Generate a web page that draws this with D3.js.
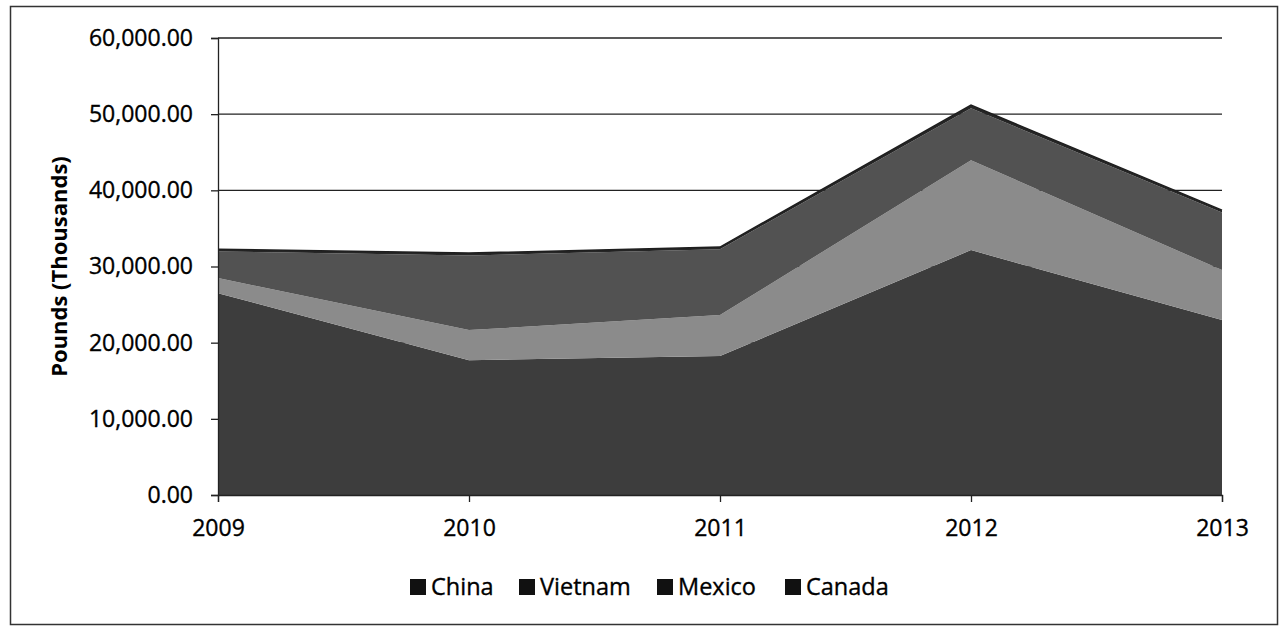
<!DOCTYPE html>
<html>
<head>
<meta charset="utf-8">
<script src="https://cdn.jsdelivr.net/npm/d3@7"></script>
<style>
  body { margin: 0; background: #fff; }
  svg { font-family: "Open Sans", "Liberation Sans", sans-serif; }
</style>
</head>
<body>
<svg width="1279" height="627"></svg>
<script>
// chart data
const years = ["2009", "2010", "2011", "2012", "2013"];
const china = [26500, 17700, 18240, 32150, 22970];
const vietnam = [1980, 3950, 5380, 11810, 6560];
const mexico = [3500, 9810, 8630, 6820, 7570];
const canada = [300, 300, 300, 400, 300];
const seriesNames = ["China", "Vietnam", "Mexico", "Canada"];
const yTicks = [0, 10000, 20000, 30000, 40000, 50000, 60000];

// define constants
const svg = d3.select("svg");
const width = +svg.attr("width");
const height = +svg.attr("height");
const margin = { left: 218, right: 57, top: 38, bottom: 132 };

const color = d3.scaleOrdinal()
  .domain(seriesNames)
  .range(["#3d3d3d", "#8b8b8b", "#525252", "#262626"]);

// build rows for the stack
const rows = years.map((y, i) => ({
  year: y, China: china[i], Vietnam: vietnam[i], Mexico: mexico[i], Canada: canada[i]
}));
const stacked = d3.stack().keys(seriesNames)(rows);

const x = d3.scalePoint()
  .domain(years)
  .range([margin.left, width - margin.right]);

const y = d3.scaleLinear()
  .domain([0, 60000])
  .range([height - margin.bottom, margin.top]);

// outer frame
svg.append("rect")
  .attr("x", 10.5).attr("y", 6.5)
  .attr("width", 1267).attr("height", 618)
  .attr("fill", "none")
  .attr("stroke", "#333")
  .attr("stroke-width", 1.5);

// gridlines
svg.append("g")
  .selectAll("line")
  .data(yTicks.slice(1))
  .enter().append("line")
    .attr("x1", margin.left)
    .attr("x2", width - margin.right)
    .attr("y1", d => y(d))
    .attr("y2", d => y(d))
    .attr("stroke", "#222")
    .attr("stroke-width", 1.3);

// areas
const area = d3.area()
  .x(d => x(d.data.year))
  .y0(d => y(d[0]))
  .y1(d => y(d[1]));

svg.append("g")
  .selectAll("path")
  .data(stacked)
  .enter().append("path")
    .attr("d", area)
    .attr("fill", d => color(d.key));

// top edge of the stack
svg.append("path")
  .datum(stacked[stacked.length - 1])
  .attr("d", d3.line().x(d => x(d.data.year)).y(d => y(d[1])))
  .attr("fill", "none")
  .attr("stroke", "#1e1e1e")
  .attr("stroke-width", 1.5);

// y axis
const yAxis = svg.append("g")
  .attr("transform", `translate(${margin.left},0)`)
  .call(d3.axisLeft(y)
    .tickValues(yTicks)
    .tickSize(7)
    .tickPadding(18)
    .tickFormat(d3.format(",.2f")));

// x axis
const xAxis = svg.append("g")
  .attr("transform", `translate(0,${height - margin.bottom})`)
  .call(d3.axisBottom(x)
    .tickSize(7)
    .tickPadding(18));

[yAxis, xAxis].forEach(ax => {
  ax.select(".domain").attr("stroke", "#222").attr("stroke-width", 1.3);
  ax.selectAll(".tick line").attr("stroke", "#222").attr("stroke-width", 1.3);
  ax.selectAll("text")
    .attr("fill", "#000")
    .attr("stroke", "#000")
    .attr("stroke-width", 0.35)
    .style("font-size", "23px")
    .style("font-family", "'Open Sans', sans-serif");
});

// y axis title
svg.append("text")
  .attr("transform", `translate(67,${(y(0) + y(60000)) / 2}) rotate(-90)`)
  .attr("text-anchor", "middle")
  .style("font-size", "22px")
  .style("font-weight", "bold")
  .attr("fill", "#000")
  .text("Pounds (Thousands)");

// legend
const legendX = [410, 519, 657, 785];
const legend = svg.append("g")
  .selectAll("g")
  .data(seriesNames)
  .enter().append("g")
    .attr("transform", (d, i) => `translate(${legendX[i]},587)`);

legend.append("rect")
  .attr("x", 0).attr("y", -8)
  .attr("width", 16).attr("height", 16)
  .attr("fill", "#111");

legend.append("text")
  .attr("x", 21)
  .attr("y", 8)
  .style("font-size", "23.5px")
  .attr("fill", "#000")
  .attr("stroke", "#000")
  .attr("stroke-width", 0.35)
  .text(d => d);
</script>
</body>
</html>
